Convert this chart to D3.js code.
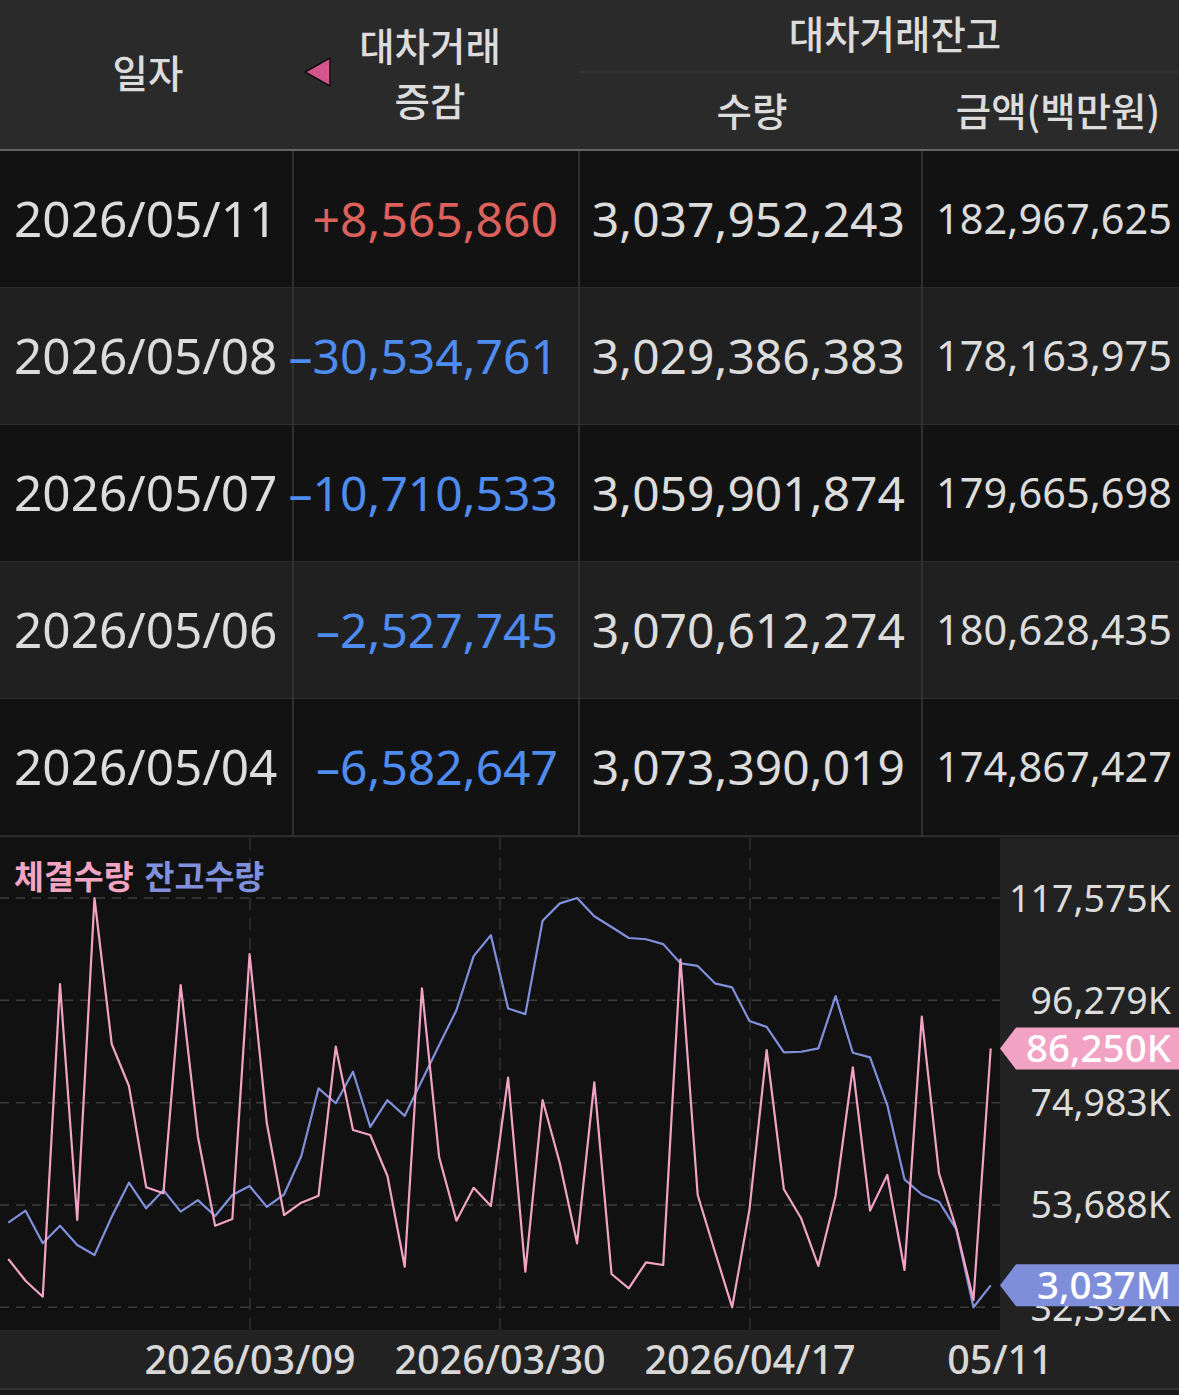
<!DOCTYPE html>
<html>
<head>
<meta charset="utf-8">
<script src="https://cdn.jsdelivr.net/npm/d3@7"></script>
<style>
  html, body { margin: 0; padding: 0; background: #181818; }
  svg { display: block; font-family: "Noto Sans", "Noto Sans CJK KR", sans-serif; }
</style>
</head>
<body>
<svg id="chart" width="1179" height="1395"></svg>
<script>
// table rows (latest first)
const rowDates = ["2026/05/11", "2026/05/08", "2026/05/07", "2026/05/06", "2026/05/04"];
const lendChange = [8565860, -30534761, -10710533, -2527745, -6582647];
const balanceQty = [3037952243, 3029386383, 3059901874, 3070612274, 3073390019];
const balanceAmt = [182967625, 178163975, 179665698, 180628435, 174867427];

// chart: trading days, 체결수량 (K shares), 잔고수량 (M shares)
const dates = [
  "2026-02-11","2026-02-12","2026-02-13","2026-02-19","2026-02-20","2026-02-23","2026-02-24","2026-02-25","2026-02-26","2026-02-27",
  "2026-03-03","2026-03-04","2026-03-05","2026-03-06","2026-03-09","2026-03-10","2026-03-11","2026-03-12","2026-03-13","2026-03-16",
  "2026-03-17","2026-03-18","2026-03-19","2026-03-20","2026-03-23","2026-03-24","2026-03-25","2026-03-26","2026-03-27","2026-03-30",
  "2026-03-31","2026-04-01","2026-04-02","2026-04-03","2026-04-06","2026-04-07","2026-04-08","2026-04-09","2026-04-10","2026-04-13",
  "2026-04-14","2026-04-15","2026-04-16","2026-04-17","2026-04-20","2026-04-21","2026-04-22","2026-04-23","2026-04-24","2026-04-27",
  "2026-04-28","2026-04-29","2026-04-30","2026-05-04","2026-05-06","2026-05-07","2026-05-08","2026-05-11"
];
const execQty = [
  42444, 37927, 34597, 99677, 50560, 117574.6, 87189, 78448, 57366, 56117,
  99469, 67897, 49374, 50780, 105920, 70685, 51601, 54161, 55618, 86628,
  69291, 68251, 59718, 40841, 98782, 63609, 50410, 57250, 53474, 80217,
  39801, 75535, 62361, 45711, 79218, 39322, 36346, 41757, 41195, 104817,
  55763, 43963, 32392, 52642, 85941, 56950, 50914, 40990, 55620, 82340,
  52510, 59926, 40154, 92871, 60279, 48833, 33911, 86250
];
const balQty = [
  3062.4, 3067.1, 3054.4, 3061.2, 3053.7, 3049.8, 3064.7, 3078.0, 3068.0, 3075.1,
  3066.7, 3071.2, 3065.0, 3073.2, 3076.7, 3068.6, 3073.4, 3088.4, 3114.8, 3109.0,
  3121.3, 3099.8, 3110.2, 3104.1, 3117.9, 3131.7, 3145.3, 3166.4, 3174.6, 3146.0,
  3143.8, 3180.2, 3187.0, 3189.1, 3182.0, 3177.8, 3173.5, 3173.0, 3171.1, 3163.6,
  3162.6, 3155.8, 3154.2, 3141.1, 3138.8, 3128.9, 3129.1, 3130.4, 3150.8, 3128.7,
  3126.9, 3108.3, 3079.3, 3073.39, 3070.61, 3059.90, 3029.39, 3037.95
];

const W = 1179;
const svg = d3.select("#chart");
const fmt = d3.format(",");
const colX = [0, 293, 579, 922, W];
const headH = 150, rowH = 137, rowTop = 151;
const PINK = "#f3a4c4", BLUE = "#8090dc";
const KR = "'Noto Sans CJK KR', sans-serif";

// ---- header
svg.append("rect").attr("x", 0).attr("y", 0).attr("width", W).attr("height", headH).attr("fill", "#2a2a2a");
svg.append("line").attr("x1", 579).attr("x2", W).attr("y1", 72).attr("y2", 72).attr("stroke", "#3a3a3a").attr("stroke-width", 1.5);

const head = [
  {t: "일자", x: 148, y: 75},
  {t: "대차거래", x: 430, y: 48},
  {t: "증감", x: 430, y: 103},
  {t: "대차거래잔고", x: 895, y: 36},
  {t: "수량", x: 752, y: 113},
  {t: "금액(백만원)", x: 1058, y: 113}
];
svg.append("g").selectAll("text").data(head).join("text")
  .attr("x", d => d.x).attr("y", d => d.y).attr("dy", "0.35em")
  .attr("text-anchor", "middle").attr("fill", "#dcdcdc")
  .style("font-size", "38.5px").style("font-weight", 500).style("font-family", KR)
  .text(d => d.t);

svg.append("path").attr("d", "M305,72 L330,58 L330,86 Z")
  .attr("fill", "#d4558e").attr("stroke", "#111").attr("stroke-width", 1.5);

svg.append("line").attr("x1", 0).attr("x2", W).attr("y1", headH).attr("y2", headH)
  .attr("stroke", "#7a7a7a").attr("stroke-width", 1.5);

// ---- table rows
const rows = svg.append("g").selectAll("g").data(rowDates).join("g")
  .attr("transform", (d, i) => `translate(0,${rowTop + i * rowH})`);

rows.append("rect").attr("width", W).attr("height", rowH)
  .attr("fill", (d, i) => i % 2 ? "#202020" : "#121212");
rows.append("line").attr("x1", 0).attr("x2", W).attr("y1", rowH).attr("y2", rowH)
  .attr("stroke", "#333").attr("stroke-width", 1.5);
rows.selectAll(".vl").data(colX.slice(1, 4)).join("line")
  .attr("x1", d => d).attr("x2", d => d).attr("y1", 0).attr("y2", rowH)
  .attr("stroke", "#383838").attr("stroke-width", 1.5);

const cy = rowH / 2;
rows.append("text").attr("x", 14).attr("y", cy).attr("dy", "0.36em")
  .attr("fill", "#dcdcdc").style("font-size", "49.5px").text(d => d);
rows.append("text").attr("x", 558).attr("y", cy).attr("dy", "0.36em").attr("text-anchor", "end")
  .attr("fill", (d, i) => lendChange[i] > 0 ? "#dc615c" : "#4e8cf0").style("font-size", "48px")
  .text((d, i) => (lendChange[i] > 0 ? "+" : "\u2013") + fmt(Math.abs(lendChange[i])));
rows.append("text").attr("x", 905).attr("y", cy).attr("dy", "0.36em").attr("text-anchor", "end")
  .attr("fill", "#dcdcdc").style("font-size", "48px").text((d, i) => fmt(balanceQty[i]));
rows.append("text").attr("x", 1172).attr("y", cy).attr("dy", "0.36em").attr("text-anchor", "end")
  .attr("fill", "#dcdcdc").style("font-size", "41.5px").text((d, i) => fmt(balanceAmt[i]));

// ---- chart
const cTop = 838, plotR = 1000, plotB = 1330, axB = 1389;
svg.append("rect").attr("x", 0).attr("y", cTop).attr("width", plotR).attr("height", plotB - cTop).attr("fill", "#111");
svg.append("rect").attr("x", plotR).attr("y", cTop).attr("width", W - plotR).attr("height", plotB - cTop).attr("fill", "#222");
svg.append("rect").attr("x", 0).attr("y", plotB).attr("width", W).attr("height", axB - plotB).attr("fill", "#222");
svg.append("line").attr("x1", 0).attr("x2", W).attr("y1", axB).attr("y2", axB).attr("stroke", "#333").attr("stroke-width", 2);

const x = d3.scaleLinear().domain([0, dates.length - 1]).range([8.3, 990.7]);
const yTop = 898, yBot = 1307.3;
const yExec = d3.scaleLinear().domain(d3.extent(execQty)).range([yBot, yTop]);
const yBal = d3.scaleLinear().domain(d3.extent(balQty)).range([yBot, yTop]);

const [eMin, eMax] = yExec.domain();
const yTicks = d3.range(5).map(i => eMin + i * (eMax - eMin) / 4);

// grid
const grid = svg.append("g").attr("stroke", "#3d3d3d").attr("stroke-width", 1.5).attr("stroke-dasharray", "9,7");
grid.selectAll(".h").data(yTicks).join("line")
  .attr("x1", 0).attr("x2", plotR).attr("y1", d => yExec(d)).attr("y2", d => yExec(d));
const xGridPx = [1, 2, 3].map(k => plotR * k / 4);
grid.selectAll(".v").data(xGridPx).join("line")
  .attr("x1", d => d).attr("x2", d => d).attr("y1", cTop).attr("y2", plotB)
  .attr("stroke", "#333").attr("stroke-dasharray", "12,8");

// x labels at quarter positions, date at nearest point
const parse = d3.timeParse("%Y-%m-%d");
const xLabPx = [1, 2, 3, 4].map(k => plotR * k / 4);
svg.append("g").selectAll("text").data(xLabPx).join("text")
  .attr("x", d => d).attr("y", 1360).attr("dy", "0.36em").attr("text-anchor", "middle")
  .attr("fill", "#d8d8d8").style("font-size", "39.5px").style("font-weight", 500)
  .text((d, i) => {
    const idx = Math.min(dates.length - 1, Math.round(x.invert(d)));
    const f = i === xLabPx.length - 1 ? d3.timeFormat("%m/%d") : d3.timeFormat("%Y/%m/%d");
    return f(parse(dates[idx]));
  });

// lines
const lineExec = d3.line().x((d, i) => x(i)).y(d => yExec(d));
const lineBal = d3.line().x((d, i) => x(i)).y(d => yBal(d));
svg.append("path").datum(balQty).attr("d", lineBal).attr("fill", "none")
  .attr("stroke", BLUE).attr("stroke-width", 2.2).attr("stroke-linejoin", "round");
svg.append("path").datum(execQty).attr("d", lineExec).attr("fill", "none")
  .attr("stroke", PINK).attr("stroke-width", 2.2).attr("stroke-linejoin", "round");

// right axis labels
svg.append("g").selectAll("text").data(yTicks).join("text")
  .attr("x", 1171).attr("y", d => yExec(d)).attr("dy", "0.36em").attr("text-anchor", "end")
  .attr("fill", "#dcdcdc").style("font-size", "37.5px")
  .text(d => fmt(Math.round(d)) + "K");

// last value tags
const tags = [
  {v: yExec(execQty[execQty.length - 1]), t: fmt(Math.round(execQty[execQty.length - 1])) + "K", c: "#f2a2c2"},
  {v: yBal(balQty[balQty.length - 1]), t: fmt(Math.floor(balQty[balQty.length - 1])) + "M", c: "#7f8edb"}
];
const tg = svg.append("g").selectAll("g").data(tags).join("g")
  .attr("transform", d => `translate(0,${d.v})`);
tg.append("path").attr("d", `M${plotR},0 L${plotR + 16},-21 L${W},-21 L${W},21 L${plotR + 16},21 Z`)
  .attr("fill", d => d.c);
tg.append("text").attr("x", 1171).attr("dy", "0.36em").attr("text-anchor", "end")
  .attr("fill", "#fff").style("font-size", "38.5px").style("font-weight", 500).text(d => d.t);

// legend
const legend = svg.append("text").attr("x", 14).attr("y", 877).attr("dy", "0.36em")
  .style("font-size", "32.5px").style("font-weight", 700).style("font-family", KR);
legend.append("tspan").attr("fill", PINK).text("체결수량");
legend.append("tspan").attr("fill", BLUE).attr("dx", 11).text("잔고수량");
</script>
</body>
</html>
